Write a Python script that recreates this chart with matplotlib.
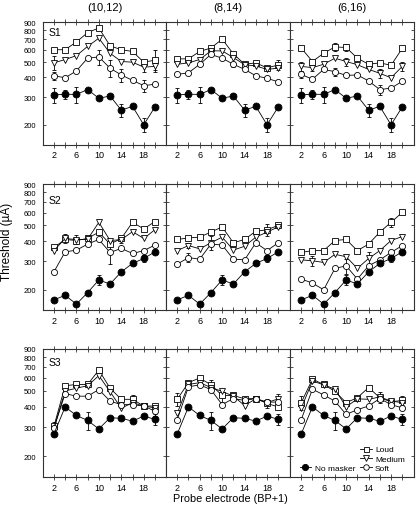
import matplotlib
matplotlib.use("Agg")
import matplotlib.pyplot as plt
from matplotlib.lines import Line2D
from matplotlib.ticker import FixedLocator, NullLocator, FixedFormatter

plt.rcParams['font.family'] = ['Liberation Sans', 'DejaVu Sans']

# ---------------- data ----------------
electrodes = [2, 4, 6, 8, 10, 12, 14, 16, 18, 20]
column_titles = ["(10,12)", "(8,14)", "(6,16)"]
subjects = ["S1", "S2", "S3"]
xtick_vals = [2, 4, 6, 8, 10, 12, 14, 16, 18, 20]
xtick_labels = ["2", "", "6", "", "10", "", "14", "", "18", ""]
ytick_vals = [200, 300, 400, 500, 600, 700, 800, 900]
ytick_labels = ["200", "300", "400", "500", "600", "700", "800", "900"]

# No masker (same for all three maskers of a subject)
S1_none = [310, 313, 312, 335, 295, 305, 248, 262, 200, 260]
S2_none = [173, 185, 163, 192, 230, 217, 258, 291, 312, 343]
S3_none = [274, 400, 355, 331, 294, 344, 341, 328, 352, 336]

# Masked thresholds, one list per masker column: (10,12), (8,14), (6,16)
S1_loud = [[600, 600, 672, 770, 825, 635, 600, 585, 500, 515],
           [525, 525, 585, 615, 700, 565, 485, 495, 460, 480],
           [615, 505, 570, 625, 620, 530, 485, 495, 478, 612]]
S1_medium = [[495, 520, 550, 630, 710, 570, 505, 500, 465, 470],
             [485, 495, 520, 590, 590, 535, 482, 473, 450, 458],
             [470, 462, 485, 530, 505, 482, 450, 425, 398, 470]]
S1_soft = [[410, 398, 440, 530, 540, 458, 415, 383, 355, 362],
           [418, 428, 485, 560, 530, 485, 450, 410, 395, 375],
           [418, 390, 450, 435, 412, 415, 380, 335, 342, 378]]

S2_loud = [[365, 409, 403, 415, 454, 383, 415, 522, 475, 528],
           [409, 418, 423, 454, 489, 390, 409, 460, 469, 500],
           [340, 349, 349, 403, 409, 349, 383, 454, 522, 601]]
S2_medium = [[349, 415, 408, 410, 522, 403, 408, 457, 415, 470],
             [349, 375, 358, 390, 423, 352, 371, 423, 454, 489],
             [306, 302, 295, 331, 320, 271, 312, 349, 403, 426]]
S2_soft = [[258, 343, 351, 383, 409, 340, 360, 335, 349, 378],
           [288, 316, 309, 383, 378, 309, 306, 390, 349, 390],
           [233, 220, 200, 271, 281, 233, 281, 306, 340, 375]]

S3_loud = [[305, 538, 548, 548, 670, 520, 445, 445, 405, 405],
           [445, 562, 600, 545, 470, 470, 448, 450, 420, 400],
           [425, 590, 548, 497, 425, 455, 525, 455, 430, 438]]
S3_medium = [[295, 500, 520, 538, 620, 495, 393, 425, 405, 395],
             [365, 548, 562, 525, 497, 465, 408, 448, 425, 448],
             [393, 575, 545, 513, 400, 448, 445, 460, 434, 425]]
S3_soft = [[298, 482, 465, 465, 510, 434, 413, 413, 405, 377],
           [335, 530, 545, 510, 413, 450, 438, 450, 428, 428],
           [335, 513, 473, 434, 360, 385, 405, 450, 413, 395]]

# Error bars (sparse: electrode -> half-length in uA)
S1_none_err = {2: 35, 4: 20, 6: 35, 14: 25, 18: 20}
S2_none_err = {10: 15, 18: 15}
S3_none_err = {8: 40, 20: 25}
S1_loud_err = [{20: 85}, {20: 35}, {8: 40, 10: 35}]
S1_medium_err = [{2: 50, 18: 30, 20: 25}, {}, {2: 30, 4: 25, 10: 30, 16: 30, 20: 30}]
S1_soft_err = [{2: 25, 10: 60, 12: 55, 14: 40, 18: 30}, {12: 20}, {2: 20, 8: 25, 16: 25}]
S2_loud_err = [{}, {18: 40}, {18: 35}]
S2_medium_err = [{4: 25, 6: 25, 14: 20}, {4: 15, 8: 40}, {4: 20, 14: 30}]
S2_soft_err = [{12: 50}, {4: 20}, {10: 30}]
S3_loud_err = [{16: 30}, {2: 40, 8: 35, 10: 40, 18: 25}, {2: 40, 20: 25}]
S3_medium_err = [{2: 30}, {20: 30}, {16: 35}]
S3_soft_err = [{20: 25}, {}, {8: 20}]

none_all = [S1_none, S2_none, S3_none]
none_err_all = [S1_none_err, S2_none_err, S3_none_err]
loud_all = [S1_loud, S2_loud, S3_loud]
medium_all = [S1_medium, S2_medium, S3_medium]
soft_all = [S1_soft, S2_soft, S3_soft]
loud_err_all = [S1_loud_err, S2_loud_err, S3_loud_err]
medium_err_all = [S1_medium_err, S2_medium_err, S3_medium_err]
soft_err_all = [S1_soft_err, S2_soft_err, S3_soft_err]

# ---------------- layout ----------------
W, H = 417, 510
fig = plt.figure(figsize=(W / 100, H / 100), dpi=100)
col_x = [42.7, 166.0, 290.0]
col_w = 123.5
row_top = [23.0, 185.0, 350.0]
row_bot = [145.5, 311.0, 478.0]
s_label_y = [0.915, 0.87, 0.895]

spine_col = '#333333'
lw = 0.6

def draw_err(ax, yvals, errs):
    xs = [x for x in electrodes if x in errs]
    ys = [yvals[electrodes.index(x)] for x in xs]
    es = [errs[x] for x in xs]
    if xs:
        ax.errorbar(xs, ys, yerr=es, fmt='none', ecolor='k', elinewidth=0.6,
                    capsize=1.4, capthick=0.6, zorder=2)

styles = {
    'loud': dict(marker='s', ms=4.0, mfc='white', mec='k', mew=0.6),
    'medium': dict(marker='v', ms=4.6, mfc='white', mec='k', mew=0.6),
    'soft': dict(marker='o', ms=4.4, mfc='white', mec='k', mew=0.6),
    'none': dict(marker='o', ms=5.0, mfc='k', mec='k', mew=0.6),
}

axes = []
for r in range(3):
    for c in range(3):
        top, bot = row_top[r], row_bot[r]
        ax = fig.add_axes([col_x[c] / W, 1 - bot / H, col_w / W, (bot - top) / H])
        axes.append(ax)
        ax.set_yscale('log')
        ax.set_xlim(0, 22)
        ax.set_ylim(150, 900)

        series = [('loud', loud_all[r][c], loud_err_all[r][c]),
                  ('medium', medium_all[r][c], medium_err_all[r][c]),
                  ('soft', soft_all[r][c], soft_err_all[r][c]),
                  ('none', none_all[r], none_err_all[r])]
        for name, vals, errs in series:
            draw_err(ax, vals, errs)
            ax.plot(electrodes, vals, color='k', lw=lw, zorder=3, **styles[name])

        ax.xaxis.set_major_locator(FixedLocator(xtick_vals))
        ax.xaxis.set_major_formatter(FixedFormatter(xtick_labels))
        ax.xaxis.set_minor_locator(NullLocator())
        ax.yaxis.set_major_locator(FixedLocator(ytick_vals))
        ax.yaxis.set_minor_locator(NullLocator())
        if c == 0:
            ax.yaxis.set_major_formatter(FixedFormatter(ytick_labels))
        else:
            ax.yaxis.set_major_formatter(FixedFormatter([""] * len(ytick_vals)))
        ax.tick_params(axis='x', which='major', direction='inout', length=5,
                       width=0.6, top=True, bottom=True, labelsize=6.5, pad=1.5,
                       colors=spine_col, labelcolor='k')
        ax.tick_params(axis='y', which='major', direction='in', length=2.5,
                       width=0.6, left=True, right=True, labelsize=5.5, pad=4.5,
                       colors=spine_col, labelcolor='k')
        for sp in ax.spines.values():
            sp.set_color(spine_col)
            sp.set_linewidth(0.8)
        if c == 0:
            ax.text(0.05, s_label_y[r], subjects[r], transform=ax.transAxes,
                    fontsize=7.5, va='center', ha='left')

for c in range(3):
    fig.text((col_x[c] + col_w / 2) / W, 1 - 8 / H, column_titles[c],
             ha='center', va='center', fontsize=8)

fig.text(7.5 / W, 1 - 242 / H, "Threshold (µA)", rotation=90,
         ha='center', va='center', fontsize=8.5)
fig.text(230 / W, 1 - 499 / H, "Probe electrode (BP+1)",
         ha='center', va='center', fontsize=7.8)

# legend in bottom-right panel
ax = axes[-1]
blank = Line2D([], [], linestyle='none', marker=None)
h_none = Line2D([], [], color='k', lw=lw, **styles['none'])
h_loud = Line2D([], [], color='k', lw=lw, **styles['loud'])
h_med = Line2D([], [], color='k', lw=lw, **styles['medium'])
h_soft = Line2D([], [], color='k', lw=lw, **styles['soft'])
ax.legend([blank, blank, h_none, h_loud, h_med, h_soft],
          ["", "", "No masker", "Loud", "Medium", "Soft"],
          ncol=2, loc='lower right', bbox_to_anchor=(0.985, -0.01),
          frameon=False, fontsize=6, handlelength=1.4, handletextpad=0.4,
          columnspacing=0.6, labelspacing=0.15, borderpad=0.3, markerscale=0.9)

fig.savefig("out.png", dpi=100)
